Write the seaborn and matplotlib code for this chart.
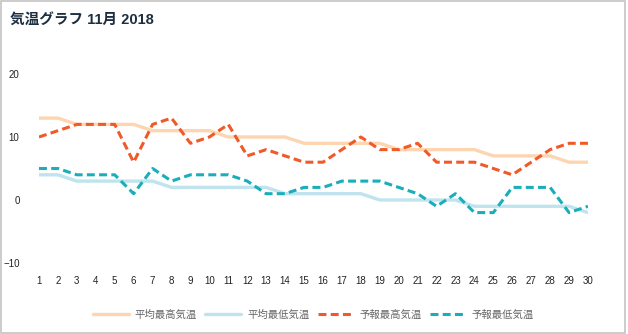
import matplotlib
matplotlib.use("Agg")
import matplotlib.pyplot as plt
import seaborn as sns
import pandas as pd
from matplotlib.patches import Rectangle

days = list(range(1, 31))
avg_max = [13, 13, 12, 12, 12, 12, 11, 11, 11, 11, 10, 10, 10, 10, 9,
           9, 9, 9, 9, 8, 8, 8, 8, 8, 7, 7, 7, 7, 6, 6]
avg_min = [4, 4, 3, 3, 3, 3, 3, 2, 2, 2, 2, 2, 2, 1, 1,
           1, 1, 1, 0, 0, 0, 0, 0, -1, -1, -1, -1, -1, -1, -2]
fc_max = [10, 11, 12, 12, 12, 6, 12, 13, 9, 10, 12, 7, 8, 7, 6,
          6, 8, 10, 8, 8, 9, 6, 6, 6, 5, 4, 6, 8, 9, 9]
fc_min = [5, 5, 4, 4, 4, 1, 5, 3, 4, 4, 4, 3, 1, 1, 2,
          2, 3, 3, 3, 2, 1, -1, 1, -2, -2, 2, 2, 2, -2, -1]
series_names = ["平均最高気温", "平均最低気温", "予報最高気温", "予報最低気温"]
y_ticks = [-10, 0, 10, 20]
title = "気温グラフ 11月 2018"

sns.set_theme(style="white")
plt.rcParams['font.family'] = ['Liberation Sans', 'Noto Sans CJK JP', 'DejaVu Sans']

fig = plt.figure(figsize=(6.28, 3.34), dpi=100)
ax = fig.add_axes([39 / 628, (334 - 263) / 334, (588 - 39) / 628, (263 - 74) / 334])

colors = ["#fdd5b0", "#bfe4ee", "#f05a28", "#1aaebb"]
styles = [dict(lw=2.4), dict(lw=2.4),
          dict(lw=2.2, dashes=(2.6, 1.4)), dict(lw=2.2, dashes=(2.6, 1.4))]
for vals, name, c, st in zip([avg_max, avg_min, fc_max, fc_min], series_names, colors, styles):
    df = pd.DataFrame({"day": days, "temp": vals})
    sns.lineplot(data=df, x="day", y="temp", ax=ax, color=c, label=name, linewidth=st["lw"])
    if "dashes" in st:
        ax.lines[-1].set_dashes(st["dashes"])
        ax.lines[-1].set_dash_capstyle("butt")

ax.set_xlim(1, 30)
ax.set_ylim(-10, 20)
ax.set_xticks(days)
ax.set_xticklabels([str(d) for d in days])
ax.set_yticks(y_ticks)
ax.set_xlabel("")
ax.set_ylabel("")
for s in ax.spines.values():
    s.set_visible(False)
ax.tick_params(axis="x", length=0, pad=9, labelsize=7, labelcolor="#222222")
ax.tick_params(axis="y", length=0, pad=14, labelsize=7, labelcolor="#222222")
ax.grid(False)

leg = ax.legend(loc="upper center", bbox_to_anchor=(0.5, -0.195), ncol=4, frameon=False,
                fontsize=7.5, handlelength=3.4, columnspacing=0.8, handletextpad=0.6)
for t in leg.get_texts():
    t.set_color("#666666")

fig.text(10 / 628, 1 - 20 / 334, title, fontsize=10.5, fontweight="bold",
         color="#1c2e40", va="center", ha="left")

fig.patches.append(Rectangle((0.001, 0.002), 0.995, 0.994, transform=fig.transFigure,
                             fill=False, edgecolor="#c4c4c4", linewidth=1.2))

fig.savefig("out.png", dpi=100)
